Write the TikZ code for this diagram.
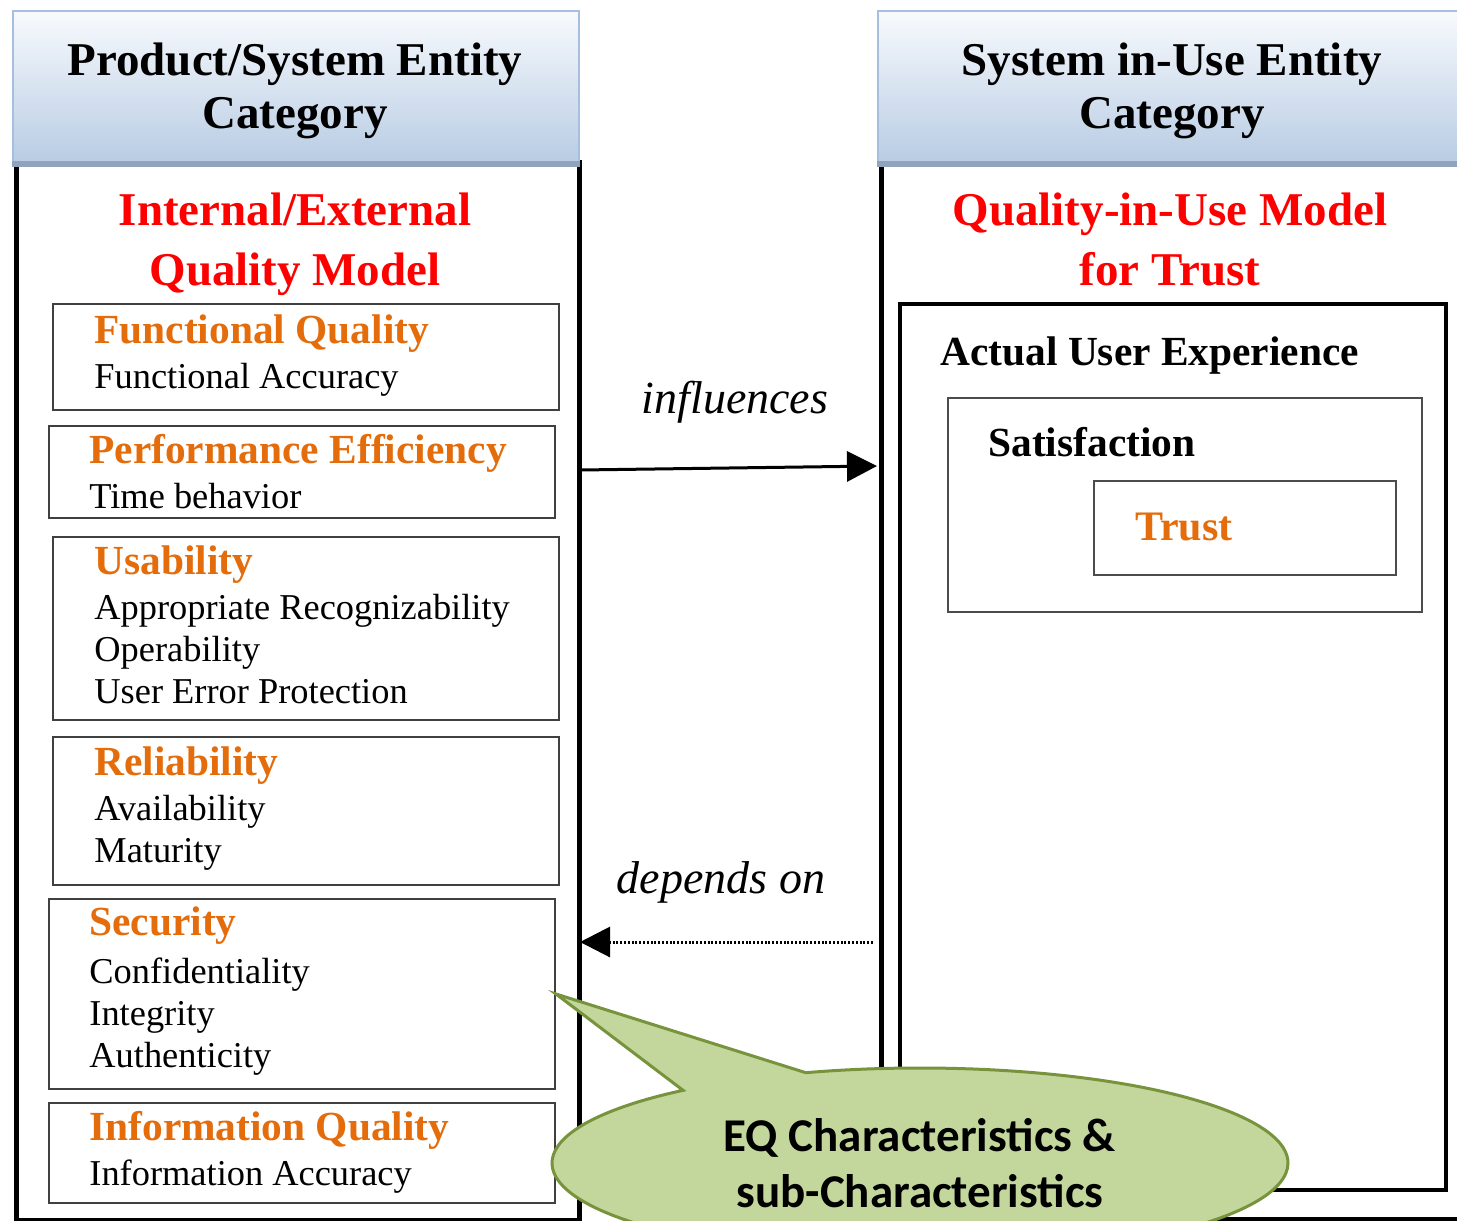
\documentclass[tikz,border=0pt]{standalone}
\usepackage{fontspec}
\setmainfont{Liberation Serif}
\newfontfamily\calloutfont{Carlito}
\usetikzlibrary{arrows.meta,shapes.callouts}

\definecolor{hdrtop}{HTML}{F8FAFD}
\definecolor{hdrbot}{HTML}{B8CCE4}
\definecolor{hdrline}{HTML}{A7BFDE}
\definecolor{hdrshade}{HTML}{8FA3BD}
\definecolor{charorange}{HTML}{E46C0A}
\definecolor{notefill}{HTML}{C3D69B}
\definecolor{noteline}{HTML}{77933C}

\newcommand{\charhead}[1]{{\fontsize{20.7}{21}\selectfont\bfseries\color{charorange}#1}}

\begin{document}
\begin{tikzpicture}[x=0.5pt, y=-0.5pt,
    panel/.style={draw, line width=2.5pt, anchor=north west, inner sep=0pt},
    header/.style={draw=hdrline, line width=1pt, top color=hdrtop, bottom color=hdrbot, anchor=north west, inner sep=0pt, minimum height=76pt},
    headtext/.style={anchor=base, align=center, inner sep=0pt, font=\fontsize{23.5}{26.5}\selectfont\bfseries},
    model/.style={anchor=base, align=center, inner sep=0pt, text=red, font=\fontsize{23.5}{30}\selectfont\bfseries},
    charbox/.style={draw=black!75, line width=1pt, anchor=north west, inner sep=0pt, minimum width=253pt},
    chartext/.style={anchor=base west, align=left, inner sep=0pt, font=\fontsize{18.2}{21}\selectfont},
    uxbox/.style={draw=black!70, line width=1pt, anchor=north west, inner sep=0pt},
    uxtext/.style={anchor=base west, inner sep=0pt, font=\fontsize{20.7}{24}\selectfont\bfseries},
    link/.style={line width=1.5pt, -{Triangle[length=15pt,width=15pt]}},
    linklabel/.style={anchor=base, inner sep=0pt, font=\fontsize{23}{26}\selectfont\itshape}]

    \useasboundingbox (0,0) rectangle (1457,1221);
    \clip (0,0) rectangle (1457,1221);
    \fill[white] (0,0) rectangle (1457,1221);

    % product / system side (text nodes sit on the baseline of their last line)
    \node[panel, minimum width=281.5pt, minimum height=529pt] (lpanel) at (14,160) {};
    \node[header, minimum width=283pt] (lhead) at (12,10) {};
    \draw[hdrshade, line width=3pt] (lhead.south west) -- (lhead.south east);
    \node[headtext] (lheadtext) at (295,128) {Product/System Entity\\Category};
    \node[model] (iemodel) at (295,285) {Internal/External\\Quality Model};

    \node[charbox, minimum height=53pt] (fq) at (52,303) {};
    \node[chartext] (fqtext) at (94,388) {\charhead{Functional Quality}\\[1.5pt]Functional Accuracy};
    \node[charbox, minimum height=46pt] (pe) at (48,425) {};
    \node[chartext] (petext) at (89,508) {\charhead{Performance Efficiency}\\[1.5pt]Time behavior};
    \node[charbox, minimum height=91.5pt] (us) at (52,536) {};
    \node[chartext] (ustext) at (94,703) {\charhead{Usability}\\[1.5pt]Appropriate Recognizability\\Operability\\User Error Protection};
    \node[charbox, minimum height=74pt] (re) at (52,736) {};
    \node[chartext] (retext) at (94,862) {\charhead{Reliability}\\[1.5pt]Availability\\Maturity};
    \node[charbox, minimum height=95pt] (sec) at (48,898) {};
    \node[chartext] (sectext) at (89,1067) {\charhead{Security}\\[3pt]Confidentiality\\Integrity\\Authenticity};
    \node[charbox, minimum height=50pt] (iq) at (48,1102) {};
    \node[chartext] (iqtext) at (89,1185) {\charhead{Information Quality}\\[1.5pt]Information Accuracy};

    % system in-use side
    \node[panel, minimum width=300pt, minimum height=528.5pt] (rpanel) at (879,160) {};
    \node[header, minimum width=300pt] (rhead) at (877,10) {};
    \draw[hdrshade, line width=3pt] (rhead.south west) -- (rhead.south east);
    \node[headtext] (rheadtext) at (1172,128) {System in-Use Entity\\Category};
    \node[model] (qiumodel) at (1170,285) {Quality-in-Use Model\\for Trust};

    \node[uxbox, draw=black, line width=1.8pt, minimum width=273pt, minimum height=443pt] (aux) at (898,302) {};
    \node[uxtext] (auxtext) at (940,365) {Actual User Experience};
    \node[uxbox, minimum width=237pt, minimum height=107pt] (sat) at (947,397) {};
    \node[uxtext] (sattext) at (988,456) {Satisfaction};
    \node[uxbox, minimum width=151pt, minimum height=47pt] (trust) at (1093,480) {};
    \node[uxtext, text=charorange, font=\fontsize{21}{24}\selectfont\bfseries] (trusttext) at (1135,540) {Trust};

    % relations
    \coordinate (inflfrom) at (580,470);
    \coordinate (inflto) at (877,466);
    \draw[link] (inflfrom) -- (inflto);
    \node[linklabel] (infl) at (735,413) {influences};

    \coordinate (depfrom) at (873,942);
    \coordinate (depto) at (580,942);
    \draw[link, line width=1.5pt, dash pattern=on 1pt off 0.9pt] (depfrom) -- (depto);
    \node[linklabel] (dep) at (721,893) {depends on};

    \node[ellipse callout, draw=noteline, fill=notefill, line width=1.5pt, minimum width=368pt, minimum height=95pt,
        callout absolute pointer={(sec.east)}, callout pointer arc=22, align=center,
        font=\calloutfont\bfseries\fontsize{23.5}{28}\selectfont] (eqnote) at (920,1163) {EQ Characteristics \&\\sub-Characteristics};
\end{tikzpicture}
\end{document}
